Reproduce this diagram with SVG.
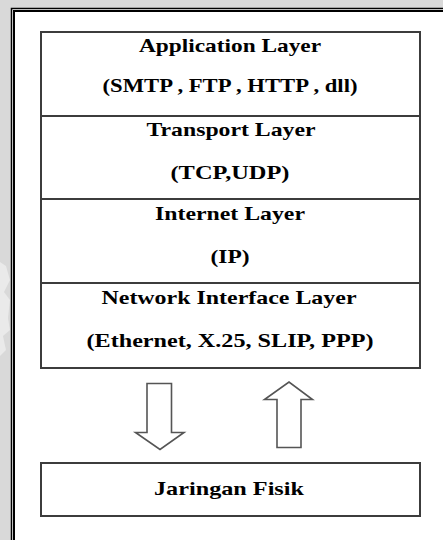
<svg xmlns="http://www.w3.org/2000/svg" width="443" height="540" viewBox="0 0 443 540">
<style>
.box{fill:#ffffff;stroke:#3c3c3c;stroke-width:2}
.t{font-family:"Liberation Serif","Times New Roman",serif;font-weight:bold;font-size:19px;fill:#000;text-anchor:middle}
.arrow{fill:#ffffff;stroke:#555;stroke-width:1.6;stroke-linejoin:miter}
</style>
<rect width="443" height="540" fill="#d9d9d9"/>
<g id="watermark" fill="#eeeeee" opacity="0.8">
<path d="M0 262 L6 266 L10 280 L4 292 L10 300 L8 318 L10 330 L3 336 L6 350 L0 356 Z M0 300 L3 306 L0 312 Z"/>
</g>
<rect x="12" y="9" width="431" height="531" fill="#ffffff"/>
<g id="frame" fill="none" stroke="#000">
<path d="M11.5 540 V8.5 H443" stroke-width="1.5"/>
<path d="M14 540 V11 H443" stroke-width="2"/>
</g>
<g id="application">
<rect class="box" x="41" y="32" width="379" height="84"/>
<text class="t" x="230" y="52" textLength="182" lengthAdjust="spacingAndGlyphs">Application Layer</text>
<text class="t" x="230" y="92" textLength="255" lengthAdjust="spacingAndGlyphs">(SMTP , FTP , HTTP , dll)</text>
</g>
<g id="transport">
<rect class="box" x="41" y="116" width="379" height="83"/>
<text class="t" x="231" y="136" textLength="169" lengthAdjust="spacingAndGlyphs">Transport Layer</text>
<text class="t" x="230" y="179" textLength="119" lengthAdjust="spacingAndGlyphs">(TCP,UDP)</text>
</g>
<g id="internet">
<rect class="box" x="41" y="199" width="379" height="84"/>
<text class="t" x="230" y="220" textLength="150" lengthAdjust="spacingAndGlyphs">Internet Layer</text>
<text class="t" x="230" y="263" textLength="39" lengthAdjust="spacingAndGlyphs">(IP)</text>
</g>
<g id="network">
<rect class="box" x="41" y="283" width="379" height="85"/>
<text class="t" x="229" y="304" textLength="255" lengthAdjust="spacingAndGlyphs">Network Interface Layer</text>
<text class="t" x="230" y="347" textLength="287" lengthAdjust="spacingAndGlyphs">(Ethernet, X.25, SLIP, PPP)</text>
</g>
<g id="fisik">
<rect class="box" x="41" y="463" width="379" height="53"/>
<text class="t" x="229" y="495" textLength="150" lengthAdjust="spacingAndGlyphs">Jaringan Fisik</text>
</g>
<g id="connectors">
<path class="arrow" d="M147 383.5 H171.5 V432.5 H184 L160 449.5 L135.5 432.5 H147 Z"/>
<path class="arrow" d="M277 447.5 H301 V399.5 H312.5 L289 382 L264.5 399.5 H277 Z"/>
</g>
</svg>
